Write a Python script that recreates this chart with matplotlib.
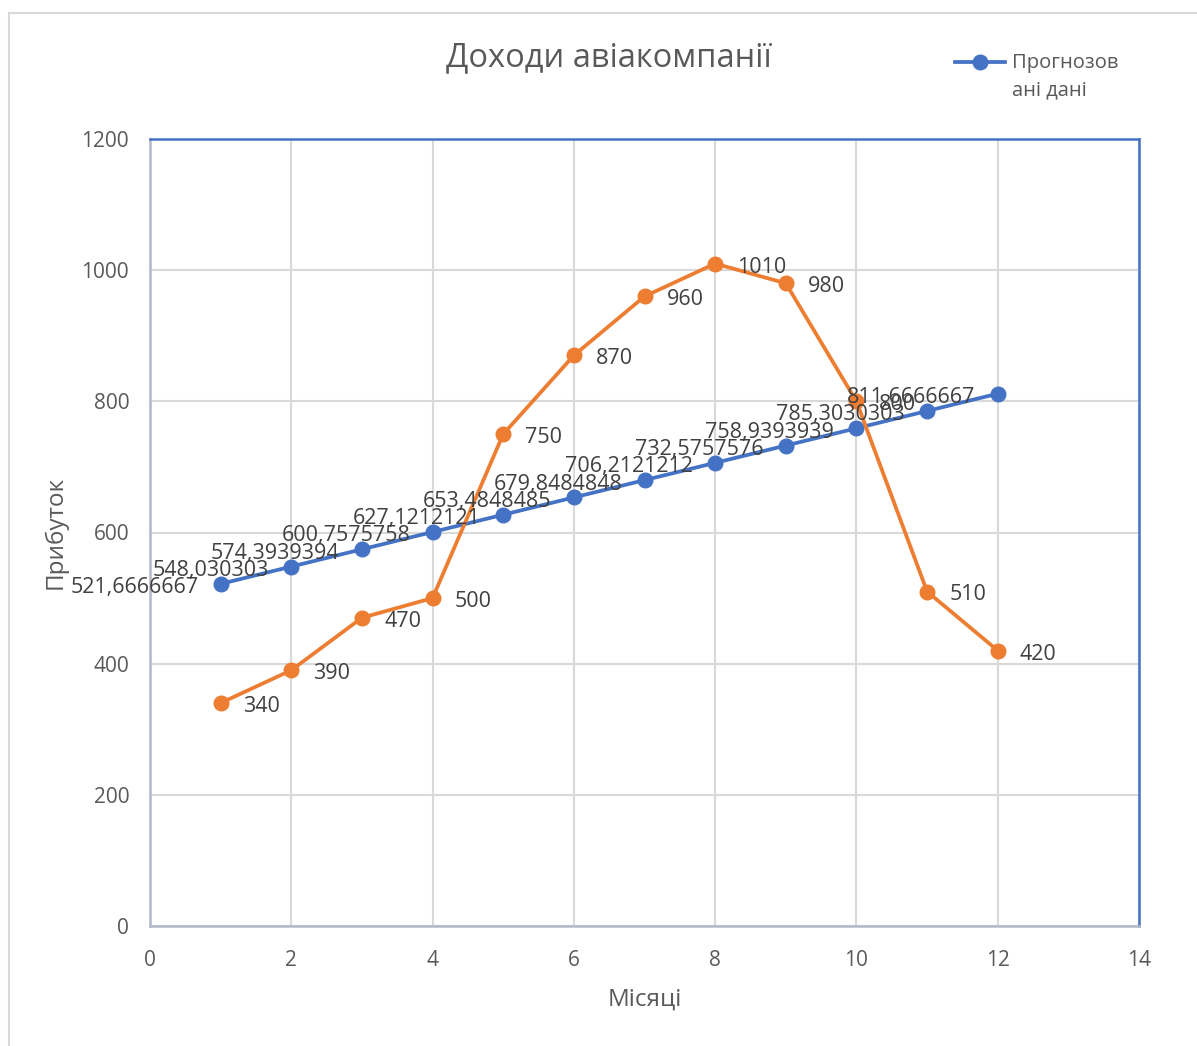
import matplotlib.pyplot as plt
from matplotlib.patches import Rectangle
from matplotlib.lines import Line2D

plt.rcParams['font.family'] = ['Open Sans', 'DejaVu Sans']

months = [1, 2, 3, 4, 5, 6, 7, 8, 9, 10, 11, 12]
forecast = [521.6666667, 548.030303, 574.3939394, 600.7575758, 627.1212121,
            653.4848485, 679.8484848, 706.2121212, 732.5757576, 758.9393939,
            785.3030303, 811.6666667]
actual = [340, 390, 470, 500, 750, 870, 960, 1010, 980, 800, 510, 420]

blue = '#4472C4'
orange = '#ED7D31'
grey_text = '#595959'

fig = plt.figure(figsize=(11.97, 10.46), dpi=100)
fig.patches.append(Rectangle((9 / 1197, -0.1), 1.2, 1.1 - 13 / 1046,
                             transform=fig.transFigure, fill=False,
                             edgecolor='#D9D9D9', linewidth=1.5))

ax = fig.add_axes([150 / 1197, 120 / 1046, 989 / 1197, 787 / 1046])

ax.plot(months, forecast, color=blue, linewidth=2.7, marker='o',
        markersize=10.5, zorder=3)
ax.plot(months, actual, color=orange, linewidth=2.7, marker='o',
        markersize=10.5, zorder=3)

# value labels: forecast to the left of points, actual to the right
for x, v in zip(months, forecast):
    ax.annotate(f'{v}'.replace('.', ','), (x, v), xytext=(-16, -2.8),
                textcoords='offset points', ha='right', va='center',
                fontsize=15.5, color='#404040', zorder=4)
for x, v in zip(months, actual):
    ax.annotate(f'{v}', (x, v), xytext=(16, -2.5),
                textcoords='offset points', ha='left', va='center',
                fontsize=15.5, color='#404040', zorder=4)

ax.set_xlim(0, 14)
ax.set_ylim(0, 1200)
ax.set_xticks(range(0, 15, 2))
ax.set_yticks(range(0, 1201, 200))
ax.grid(True, color='#D9D9D9', linewidth=1.5, zorder=0)
ax.set_axisbelow(True)
ax.tick_params(length=0, labelsize=15, labelcolor=grey_text)
ax.tick_params(axis='y', pad=15)
ax.tick_params(axis='x', pad=17)

for side in ('left', 'bottom'):
    ax.spines[side].set_color('#B4B8C6')
    ax.spines[side].set_linewidth(1.8)
for side in ('top', 'right'):
    ax.spines[side].set_color(blue)
    ax.spines[side].set_linewidth(1.8)

ax.set_xlabel('Місяці', fontsize=17.5, color=grey_text, labelpad=12)
ax.set_ylabel('Прибуток', fontsize=17.5, color=grey_text, labelpad=10)

fig.text(609 / 1197, 1 - 58 / 1046, 'Доходи авіакомпанії', fontsize=23.5,
         color=grey_text, ha='center', va='center')

# legend: line sample with a marker, label wrapped over two lines
legend_y = 1 - 62 / 1046
fig.add_artist(Line2D([955 / 1197, 980 / 1197, 1005 / 1197],
                      [legend_y] * 3, transform=fig.transFigure,
                      color=blue, linewidth=2.7, marker='o',
                      markersize=10.5, markevery=[1]))
fig.text(1012 / 1197, 1 - 53 / 1046, 'Прогнозов\nані дані', fontsize=14.5,
         color=grey_text, ha='left', va='top', linespacing=1.5)

fig.savefig('out.png', dpi=100)
